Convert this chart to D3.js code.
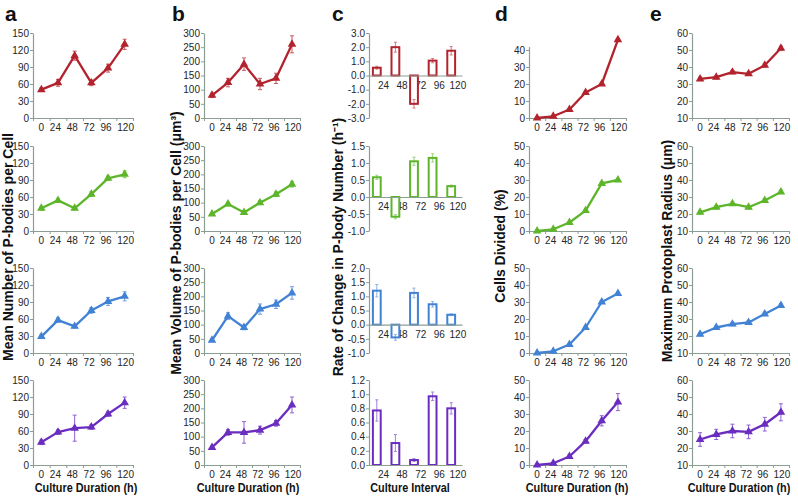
<!DOCTYPE html>
<html><head><meta charset="utf-8">
<script src="https://cdn.jsdelivr.net/npm/d3@7"></script>
<style>body{margin:0;background:#fff} text{font-family:"Liberation Sans",Arial,sans-serif}</style>
</head><body><svg id="chart" width="798" height="496"></svg>
<script>
// ---- categories / ticks ----
const hours = ["0","24","48","72","96","120"];
const intervals = ["24","48","72","96","120"];
const panelLetters = ["a","b","c","d","e"];
const yTitles = ["Mean Number of P-bodies per Cell", "Mean Volume of P-bodies per Cell (μm³)", "Rate of Change in P-body Number (h⁻¹)", "Cells Divided (%)", "Maximum Protoplast Radius (μm)"];
const xTitles = ["Culture Duration (h)","Culture Duration (h)","Culture Interval","Culture Duration (h)","Culture Duration (h)"];
const seriesColors = ["#b3232e","#5db52a","#4282d5","#6a2dbf"];

const aTicks = [0,30,60,90,120,150];
const bTicks = [0,50,100,150,200,250,300];
const cTicks1 = [-3,-2,-1,0,1,2,3];
const cTicks2 = [-1,-0.5,0,0.5,1,1.5];
const cTicks3 = [-1,-0.5,0,0.5,1,1.5,2];
const cTicks4 = [0,0.2,0.4,0.6,0.8,1,1.2];
const dTicks = [0,10,20,30,40,50];
const dTicksTop = [0,10,20,30,40];
const eTicks = [10,20,30,40,50,60];

// ---- a: mean number of P-bodies per cell ----
const aRed = [50,62,110,62,88,130],     aRedErr = [3,6,8,5,7,9];
const aGreen = [40,54,40,65,93,100],    aGreenErr = [3,3,3,4,4,6];
const aBlue = [29,58,47,75,91,100],     aBlueErr = [3,4,3,5,7,8];
const aPurple = [40,58,65,67,90,110],   aPurpleErr = [4,4,23,4,4,10];
// ---- b: mean volume ----
const bRed = [80,125,190,120,140,260],  bRedErr = [8,15,22,20,18,30];
const bGreen = [60,95,65,100,130,165],  bGreenErr = [5,6,5,7,8,10];
const bBlue = [45,130,90,155,172,212],  bBlueErr = [5,12,8,18,15,22];
const bPurple = [62,115,115,123,147,212], bPurpleErr = [5,10,38,14,10,28];
// ---- c: rate of change ----
const cRed = [0.55,2.0,-2.0,1.05,1.75],   cRedErr = [0.1,0.35,0.3,0.15,0.3];
const cGreen = [0.58,-0.58,1.05,1.15,0.32], cGreenErr = [0.06,0.06,0.12,0.12,0.03];
const cBlue = [1.2,-0.45,1.12,0.72,0.35], cBlueErr = [0.22,0.1,0.17,0.1,0.03];
const cPurple = [0.77,0.31,0.07,0.97,0.8], cPurpleErr = [0.15,0.12,0.02,0.06,0.08];
// ---- d: cells divided ----
const dRed = [0,1,5,15,20,46],          dRedErr = [0.3,0.3,0.5,0.6,0.6,0.8];
const dGreen = [0,1,5,12,28,30],        dGreenErr = [0.3,0.3,0.5,0.6,0.8,0.8];
const dBlue = [0,1,5,15,30,35],         dBlueErr = [0.3,0.3,0.5,0.6,0.8,0.8];
const dPurple = [0,1,5,14,26,37],       dPurpleErr = [0.5,0.5,1,1,3,5];
// ---- e: protoplast radius ----
const eRed = [33,34,37,36,41,51],       eRedErr = [1,1,1,1,1,1.2];
const eGreen = [21,24,26,24,28,33],     eGreenErr = [1,1,1,1,1,1];
const eBlue = [21,25,27,28,33,38],      eBlueErr = [1,1,1,1,1,1];
const ePurple = [25,28,30,29.5,34,41],  ePurpleErr = [4,3,4,4,4,5];

// ---- layout ----
const svg = d3.select("#chart");
const rows = [{top:33,bot:118},{top:146,bot:231},{top:268,bot:353},{top:380,bot:465}];
const cols = [[33,133],[204,300],[369,462],[529,626],[692,789]];
const axisColor = "#8c9e94";
const labelColor = "#262626";
const intFmt = d => String(d);
const decFmt = d => d.toFixed(1);

function yAxis(g, y, x0, ticks, fmt, axisDomain) {
  const ay = axisDomain ? y.copy().domain(axisDomain).range(axisDomain.map(y)) : y;
  const ax = d3.axisLeft(ay).tickValues(ticks).tickFormat(fmt).tickSize(3).tickPadding(1).tickSizeOuter(0);
  const gg = g.append("g").attr("transform", `translate(${x0},0)`).call(ax);
  gg.select(".domain").attr("stroke", axisColor).attr("stroke-width", 1.2);
  gg.selectAll(".tick line").attr("stroke", axisColor);
  gg.selectAll(".tick text").attr("fill", labelColor).attr("font-size", 10).attr("font-family", "Liberation Sans, Arial, sans-serif");
}

function xAxisEdges(g, n, range, yPos, tick) {
  const xe = d3.scaleLinear().domain([0, n]).range(range);
  const ax = d3.axisBottom(xe).tickValues(d3.range(n + 1)).tickFormat("").tickSize(tick).tickSizeOuter(0);
  const gg = g.append("g").attr("transform", `translate(0,${yPos})`).call(ax);
  gg.select(".domain").attr("stroke", axisColor).attr("stroke-width", 1.2);
  gg.selectAll(".tick line").attr("stroke", axisColor);
}

function spreadLabels(g, labels, cx0, cx1, baseline) {
  const t = g.selectAll("text.xl").data(labels).join("text").attr("class", "xl")
    .attr("y", baseline).attr("font-size", 10).attr("fill", labelColor).text(d => d);
  const w = t.nodes().map(n => n.getComputedTextLength());
  const n = labels.length - 1;
  const start = cx0 - w[0] / 2;
  const gap = (cx1 - start - d3.sum(w.slice(0, n)) - w[n] / 2) / n;
  let pos = start;
  t.each(function (d, i) { d3.select(this).attr("x", pos); pos += w[i] + gap; });
}

function linePanel(ci, ri, values, errs, domain, ticks, fmt, axisDomain) {
  const color = seriesColors[ri];
  const {top, bot} = rows[ri];
  const g = svg.append("g");
  const x = d3.scaleBand().domain(hours).range(cols[ci]);
  const cx = h => x(h) + x.bandwidth() / 2;
  const y = d3.scaleLinear().domain(domain).range([bot, top]);
  yAxis(g, y, cols[ci][0], ticks, fmt, axisDomain);
  xAxisEdges(g, hours.length, cols[ci], bot, 3);
  spreadLabels(g.append("g"), hours, cx(hours[0]), cx(hours[hours.length - 1]) + 1, bot + 13);
  const pts = hours.map((h, i) => ({h, v: values[i], e: errs[i]}));
  const eb = g.append("g").attr("stroke", color).attr("stroke-width", 1).attr("opacity", 0.75);
  pts.forEach(p => {
    const xx = cx(p.h);
    eb.append("line").attr("x1", xx).attr("x2", xx).attr("y1", y(p.v - p.e)).attr("y2", y(p.v + p.e));
    [p.v - p.e, p.v + p.e].forEach(v => eb.append("line").attr("x1", xx - 2).attr("x2", xx + 2).attr("y1", y(v)).attr("y2", y(v)));
  });
  g.append("path").datum(pts).attr("fill", "none").attr("stroke", color).attr("stroke-width", 2.3)
    .attr("stroke-linejoin", "round")
    .attr("d", d3.line().x(p => cx(p.h)).y(p => y(p.v)));
  g.selectAll("path.mk").data(pts).join("path").attr("class", "mk")
    .attr("transform", p => `translate(${cx(p.h)},${y(p.v)})`)
    .attr("d", d3.symbol(d3.symbolTriangle, 32)).attr("fill", color);
}

function barPanel(ri, values, errs, domain, ticks) {
  const ci = 2;
  const color = seriesColors[ri];
  const {top, bot} = rows[ri];
  const g = svg.append("g");
  const x = d3.scaleBand().domain(intervals).range(cols[ci]);
  const bw = x.bandwidth();
  const y = d3.scaleLinear().domain(domain).range([bot, top]);
  yAxis(g, y, cols[ci][0], ticks, decFmt);
  const y0 = y(0);
  const lab = g.append("g");
  lab.selectAll("text").data(intervals).join("text")
    .attr("x", d => x(d) + bw * 0.78).attr("y", y0 + 13)
    .attr("text-anchor", "middle").attr("font-size", 10).attr("fill", labelColor).text(d => d);
  const data = intervals.map((k, i) => ({k, v: values[i], e: errs[i]}));
  const rw = bw * 0.42;
  g.selectAll("rect.bar").data(data).join("rect").attr("class", "bar")
    .attr("x", d => x(d.k) + bw / 2 - rw / 2 - 1.5).attr("width", rw)
    .attr("y", d => y(Math.max(0, d.v))).attr("height", d => Math.abs(y(d.v) - y0))
    .attr("fill", "#fff").attr("stroke", color).attr("stroke-width", 2);
  xAxisEdges(g, intervals.length, cols[ci], y0, 0);
  const eb = g.append("g").attr("stroke", color).attr("stroke-width", 1).attr("opacity", 0.6);
  data.forEach(d => {
    const xx = x(d.k) + bw / 2 - 1.5;
    eb.append("line").attr("x1", xx).attr("x2", xx).attr("y1", y(d.v - d.e)).attr("y2", y(d.v + d.e));
    [d.v - d.e, d.v + d.e].forEach(v => eb.append("line").attr("x1", xx - 1.5).attr("x2", xx + 1.5).attr("y1", y(v)).attr("y2", y(v)));
  });
}

// column a
linePanel(0, 0, aRed, aRedErr, [0,150], aTicks, intFmt);
linePanel(0, 1, aGreen, aGreenErr, [0,150], aTicks, intFmt);
linePanel(0, 2, aBlue, aBlueErr, [0,150], aTicks, intFmt);
linePanel(0, 3, aPurple, aPurpleErr, [0,150], aTicks, intFmt);
// column b
linePanel(1, 0, bRed, bRedErr, [0,300], bTicks, intFmt);
linePanel(1, 1, bGreen, bGreenErr, [0,300], bTicks, intFmt);
linePanel(1, 2, bBlue, bBlueErr, [0,300], bTicks, intFmt);
linePanel(1, 3, bPurple, bPurpleErr, [0,300], bTicks, intFmt);
// column c
barPanel(0, cRed, cRedErr, [-3,3], cTicks1);
barPanel(1, cGreen, cGreenErr, [-1,1.5], cTicks2);
barPanel(2, cBlue, cBlueErr, [-1,2], cTicks3);
barPanel(3, cPurple, cPurpleErr, [0,1.2], cTicks4);
// column d
linePanel(3, 0, dRed, dRedErr, [0,50], dTicksTop, intFmt, [0,42]);
linePanel(3, 1, dGreen, dGreenErr, [0,50], dTicks, intFmt);
linePanel(3, 2, dBlue, dBlueErr, [0,50], dTicks, intFmt);
linePanel(3, 3, dPurple, dPurpleErr, [0,50], dTicks, intFmt);
// column e
linePanel(4, 0, eRed, eRedErr, [10,60], eTicks, intFmt);
linePanel(4, 1, eGreen, eGreenErr, [10,60], eTicks, intFmt);
linePanel(4, 2, eBlue, eBlueErr, [10,60], eTicks, intFmt);
linePanel(4, 3, ePurple, ePurpleErr, [10,60], eTicks, intFmt);

// panel letters
const letterX = [5,172,332,495,650];
svg.selectAll("text.letter").data(panelLetters).join("text").attr("class","letter")
  .attr("x", (d,i) => letterX[i]).attr("y", 21).attr("font-size", 21).attr("font-weight", "bold")
  .attr("fill", "#111").text(d => d);

// y titles
const yTitleX = [13,181,343,505,672];
const yTitleY = [247,243,247,246,251];
yTitles.forEach((t, i) => {
  svg.append("text").attr("transform", `translate(${yTitleX[i]},${yTitleY[i]}) rotate(-90)`)
    .attr("text-anchor", "middle").attr("font-size", 14).attr("font-weight", "bold").attr("fill", "#111")
    .text(t);
});

// x titles (horizontally condensed like the reference's narrow bold face)
const xTitleX = [86,248,410,577,739];
xTitles.forEach((t, i) => {
  svg.append("text").attr("transform", `translate(${xTitleX[i]},492) scale(0.87,1)`)
    .attr("text-anchor", "middle")
    .attr("font-size", 12.5).attr("font-weight", "bold").attr("fill", "#111")
    .text(t);
});
</script></body></html>
